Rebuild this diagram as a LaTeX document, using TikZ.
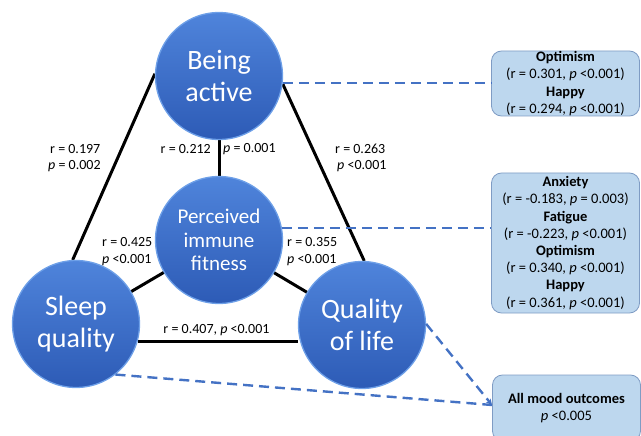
\documentclass[tikz,border=0pt]{standalone}
\usepackage{fontspec}
\setmainfont{Carlito}
\usetikzlibrary{arrows.meta,backgrounds}
\definecolor{circtop}{HTML}{4F84DB}
\definecolor{circbot}{HTML}{2D5BB6}
\definecolor{circrim}{HTML}{6EA0E8}
\definecolor{dashblue}{HTML}{4472C4}
\definecolor{boxfill}{HTML}{BDD7EE}
\definecolor{boxline}{HTML}{7F9CC4}
\tikzset{
  bubble/.style={circle, minimum size=127pt, inner sep=0pt, align=center,
    text=white, top color=circtop, bottom color=circbot, draw=circrim, line width=1.3pt,
    font=\fontsize{28}{32}\selectfont},
  smallbubble/.style={bubble, font=\fontsize{21}{23.5}\selectfont},
  link/.style={black, line width=3pt},
  dashlink/.style={dashblue, line width=2.4pt, dash pattern=on 10pt off 6pt},
  lab/.style={font=\fontsize{14}{17}\selectfont, inner sep=0pt},
  infobox/.style={rectangle, rounded corners=10pt, fill=boxfill, draw=boxline, line width=0.8pt,
    minimum width=148pt, align=center, inner sep=0pt, font=\fontsize{14.5}{17.2}\selectfont},
}
\begin{document}
\begin{tikzpicture}[x=1pt,y=-1pt]
\useasboundingbox (0,0) rectangle (641,436);
\clip (0,0) rectangle (641,436);
% boxes
\node[infobox, minimum height=65pt] (B1) at (565.5,83.5) {\textbf{Optimism}\\(r = 0.301, \textit{p} <0.001)\\\textbf{Happy}\\(r = 0.294, \textit{p} <0.001)};
\node[infobox, minimum height=140pt] (B2) at (565.5,243) {\textbf{Anxiety}\\(r = -0.183, \textit{p} = 0.003)\\\textbf{Fatigue}\\(r = -0.223, \textit{p} <0.001)\\\textbf{Optimism}\\(r = 0.340, \textit{p} <0.001)\\\textbf{Happy}\\(r = 0.361, \textit{p} <0.001)};
\node[infobox, minimum height=66pt] (B3) at (566.5,408) {\textbf{All mood outcomes}\\\textit{p} <0.005};
% circles
\node[bubble] (BA) at (219,76) {Being\\active};
\node[smallbubble] (PIF) at (219,240) {Perceived\\immune\\fitness};
\node[bubble] (SQ) at (76,324) {Sleep\\quality};
\node[bubble] (QL) at (362,325) {Quality\\of life};
% solid links, under the circles
\begin{pgfonlayer}{background}
\draw[link] (BA.178) -- (SQ.93);
\draw[link] (BA.-7) -- (QL.88);
\draw[link] (BA.south) -- (PIF.north);
\draw[link] (PIF.center) -- (SQ.center);
\draw[link] (PIF.center) -- (QL.center);
\draw[link] (SQ.-16.5) -- (SQ.-16.5 -| QL.west);
\end{pgfonlayer}
% dashed links
\coordinate (J) at (492,405);
\draw[dashlink] (BA.-6) -- (BA.-6 -| B1.west);
\draw[dashlink] (PIF.11) -- (PIF.11 -| B2.west);
\draw[dashlink] (SQ.-52) -- (J);
\draw[dashlink, -{Stealth[length=6pt,width=6pt]}] (QL.1) -- (J);
% labels
\node[lab, anchor=west] (l1a) at (50,149) {r = 0.197};
\node[lab, anchor=west] (l1b) at (48,166) {\textit{p} = 0.002};
\node[lab, anchor=east] (l2a) at (211,149) {r = 0.212};
\node[lab, anchor=west] (l2b) at (223,149) {\textit{p} = 0.001};
\node[lab, anchor=west] (l3a) at (335,149) {r = 0.263};
\node[lab, anchor=west] (l3b) at (337,166) {\textit{p} <0.001};
\node[lab, anchor=west] (l4a) at (102,242) {r = 0.425};
\node[lab, anchor=west] (l4b) at (102,260) {\textit{p} <0.001};
\node[lab, anchor=west] (l5a) at (287,242) {r = 0.355};
\node[lab, anchor=west] (l5b) at (287,260) {\textit{p} <0.001};
\node[lab] (l6) at (216.5,330) {r = 0.407, \textit{p} <0.001};
\end{tikzpicture}
\end{document}
